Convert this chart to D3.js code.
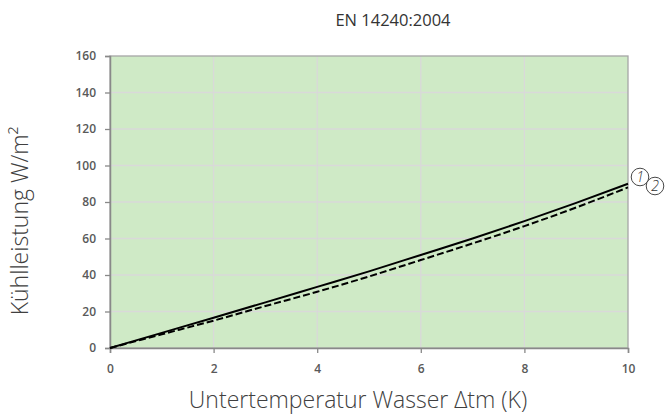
<!DOCTYPE html>
<html><head><meta charset="utf-8">
<script src="https://cdn.jsdelivr.net/npm/d3@7"></script>
<style>body{margin:0;background:#fff}svg{display:block}</style>
</head><body>
<script>
const xValues = [0,1,2,3,4,5,6,7,8,9,10];
const series1 = [0, 8.3, 16.6, 25, 33.5, 42, 51, 60, 69.5, 79.5, 90];
const series2 = [0, 7.5, 15, 23, 30.8, 39.2, 48.2, 57.3, 66.8, 77, 88];
const xTicks = [0,2,4,6,8,10];
const yTicks = [0,20,40,60,80,100,120,140,160];
const title = "EN 14240:2004";
const xTitle = "Untertemperatur Wasser Δtm (K)";
const yTitle = "Kühlleistung W/m²";
const seriesLabels = ["1","2"];

const W=665,H=417;
const m={l:110,r:628,t:56,b:348};
const svg=d3.select("body").append("svg").attr("width",W).attr("height",H);
const x=d3.scaleLinear().domain([0,10]).range([m.l,m.r]);
const y=d3.scaleLinear().domain([0,160]).range([m.b,m.t]);

svg.append("rect").attr("x",m.l).attr("y",m.t).attr("width",m.r-m.l).attr("height",m.b-m.t).attr("fill","#cfeac6");
svg.append("g").selectAll("line").data(yTicks.slice(1,-1)).join("line")
  .attr("x1",m.l).attr("x2",m.r).attr("y1",d=>y(d)).attr("y2",d=>y(d)).attr("stroke","#d9d9d9").attr("stroke-width",1.3);
svg.append("g").selectAll("line").data(xTicks.slice(1,-1)).join("line")
  .attr("y1",m.t).attr("y2",m.b).attr("x1",d=>x(d)).attr("x2",d=>x(d)).attr("stroke","#d9d9d9").attr("stroke-width",1.3);
svg.append("rect").attr("x",m.l).attr("y",m.t).attr("width",m.r-m.l).attr("height",m.b-m.t).attr("fill","none").attr("stroke","#a6a6a6").attr("stroke-width",1.3);

const font="'Open Sans', sans-serif";
const yAxis=svg.append("g").attr("transform",`translate(${m.l},0)`).call(d3.axisLeft(y).tickValues(yTicks).tickSize(5).tickPadding(9).tickFormat(d3.format("d")));
const xAxis=svg.append("g").attr("transform",`translate(0,${m.b})`).call(d3.axisBottom(x).tickValues(xTicks).tickSize(5).tickPadding(11).tickFormat(d3.format("d")));
[xAxis,yAxis].forEach(a=>{
  a.select(".domain").attr("stroke","#898989").attr("stroke-width",1.5);
  a.selectAll(".tick line").attr("stroke","#898989").attr("stroke-width",1.3);
  a.selectAll("text").attr("fill","#595959").style("font-family",font).style("font-size","12px").style("font-weight","600");
});

const line=d3.line().x((d,i)=>x(xValues[i])).y(d=>y(d)).curve(d3.curveMonotoneX);
svg.append("path").datum(series2).attr("d",line).attr("fill","none").attr("stroke","#000").attr("stroke-width",2).attr("stroke-dasharray","7,3");
svg.append("path").datum(series1).attr("d",line).attr("fill","none").attr("stroke","#000").attr("stroke-width",2);

const lbl=[{cx:640,cy:177,t:seriesLabels[0]},{cx:655,cy:186,t:seriesLabels[1]}];
lbl.forEach(o=>{
  svg.append("circle").attr("cx",o.cx).attr("cy",o.cy).attr("r",8.8).attr("fill","#fff").attr("stroke","#333").attr("stroke-width",0.9);
  svg.append("text").attr("x",o.cx).attr("y",o.cy+5).attr("text-anchor","middle").style("font-family",font).style("font-size","14px").style("font-style","italic").style("font-weight","300").attr("fill","#333").text(o.t);
});

svg.append("text").attr("x",393).attr("y",26).attr("text-anchor","middle").style("font-family",font).style("font-size","16.5px").attr("fill","#333").text(title);
svg.append("text").attr("x",358).attr("y",408).attr("text-anchor","middle").style("font-family",font).style("font-size","23px").style("font-weight","300").attr("fill","#404040").text(xTitle);
svg.append("text").attr("transform","translate(28,221) rotate(-90)").attr("text-anchor","middle").style("font-family",font).style("font-size","23px").style("font-weight","300").attr("fill","#404040").text(yTitle);
</script>
</body></html>
